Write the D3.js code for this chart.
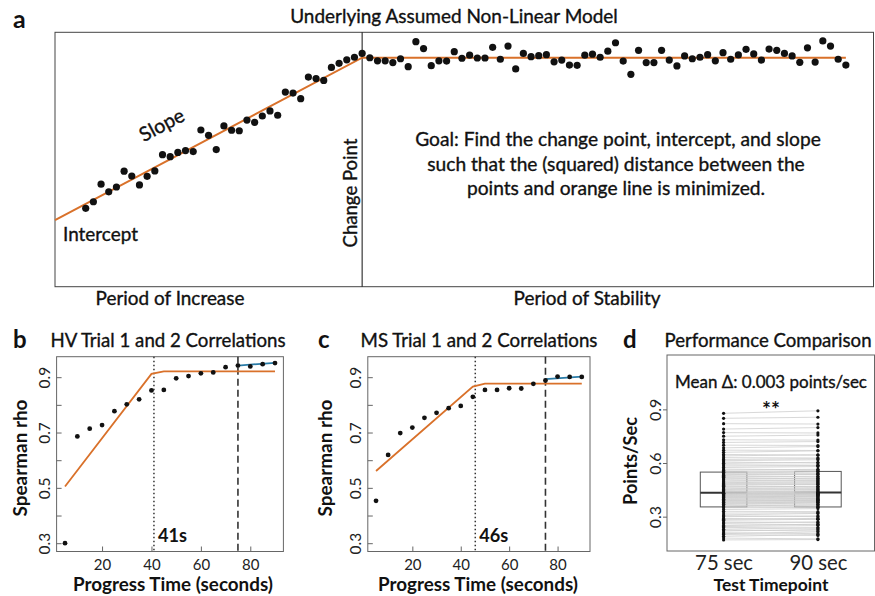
<!DOCTYPE html>
<html>
<head>
<meta charset="utf-8">
<script src="https://cdn.jsdelivr.net/npm/d3@7"></script>
<style>
body { margin: 0; background: #fff; }
svg { display: block; font-family: Lato, "Open Sans", sans-serif; }
</style>
</head>
<body>
<svg id="chart" width="875" height="596"></svg>
<script>
// ---- panel a: sketch of the piecewise model
var aValues = [3.08, 3.34, 4.03, 3.73, 3.92, 4.54, 4.35, 4.00, 4.34, 4.55,
    5.19, 5.11, 5.28, 5.35, 5.31, 6.16, 5.95, 5.39, 6.32, 6.15,
    6.13, 6.55, 6.46, 6.71, 6.91, 6.74, 7.65, 7.61, 7.39, 8.24,
    8.18, 8.11, 8.62, 8.78, 8.92, 9.02, 9.17, 9.00, 8.88, 8.88,
    8.81, 8.96, 8.65, 9.63, 9.36, 8.69, 8.88, 8.87, 9.24, 8.98,
    9.10, 8.99, 8.99, 9.41, 8.94, 9.46, 8.56, 9.17, 9.04, 9.08,
    9.12, 8.84, 8.91, 8.71, 8.70, 9.10, 9.14, 9.02, 9.26, 9.59,
    8.87, 8.35, 9.29, 8.81, 8.81, 9.29, 8.91, 8.68, 9.07, 8.96,
    9.02, 9.12, 8.88, 9.20, 8.94, 9.11, 9.33, 9.15, 8.91, 9.34,
    9.29, 9.17, 9.07, 8.82, 9.39, 8.83, 9.66, 9.46, 8.94, 8.71];
var aChangePoint = 37;
var aFit = [[-3, 2.62], [37, 9.0], [100, 9.0]];

// ---- panels b and c: trial 1 vs 2 correlations
var progressTime = [5, 10, 15, 20, 25, 30, 35, 40, 45, 50, 55, 60, 65, 70, 75, 80, 85, 90];
var hvRho = [0.300, 0.686, 0.714, 0.727, 0.777, 0.802, 0.820, 0.852, 0.854,
    0.896, 0.904, 0.914, 0.917, 0.936, 0.942, 0.939, 0.947, 0.951];
var hvFit = [[5, 0.505], [40, 0.912], [45, 0.921], [90, 0.921]];
var hvLate = [[75, 0.942], [90, 0.952]];
var hvChange = 41;

var msRho = [0.453, 0.619, 0.698, 0.718, 0.753, 0.771, 0.788, 0.796, 0.829,
    0.854, 0.854, 0.860, 0.859, 0.876, 0.888, 0.902, 0.901, 0.901];
var msFit = [[5, 0.561], [45, 0.866], [50, 0.877], [90, 0.877]];
var msLate = [[75, 0.893], [90, 0.902]];
var msChange = 46;

var testCut = 75;
var rhoTicks = [0.3, 0.4, 0.5, 0.6, 0.7, 0.8, 0.9];
var rhoLabels = [0.3, 0.5, 0.7, 0.9];
var timeTicks = [20, 40, 60, 80];

// ---- panel d: points/sec at 75 and 90 sec (one pair per participant)
var timepoints = ['75 sec', '90 sec'];
var pps75 = [0.17, 0.18, 0.19, 0.2, 0.205, 0.21, 0.22, 0.225, 0.23, 0.24,
    0.245, 0.25, 0.26, 0.265, 0.27, 0.28, 0.285, 0.29, 0.3, 0.305,
    0.31, 0.32, 0.33, 0.34, 0.35, 0.356, 0.36, 0.365, 0.37, 0.372,
    0.376, 0.38, 0.384, 0.387, 0.39, 0.394, 0.397, 0.4, 0.404, 0.407,
    0.41, 0.413, 0.416, 0.419, 0.421, 0.424, 0.427, 0.429, 0.431, 0.433,
    0.434, 0.438, 0.443, 0.447, 0.452, 0.456, 0.461, 0.466, 0.47, 0.476,
    0.48, 0.486, 0.49, 0.495, 0.5, 0.506, 0.511, 0.516, 0.52, 0.526,
    0.531, 0.535, 0.54, 0.544, 0.548, 0.553, 0.56, 0.566, 0.575, 0.583,
    0.59, 0.598, 0.605, 0.613, 0.62, 0.63, 0.64, 0.648, 0.66, 0.672,
    0.685, 0.7, 0.715, 0.73, 0.75, 0.77, 0.79, 0.82, 0.85, 0.878];
var pps90 = [0.172, 0.176, 0.2, 0.195, 0.215, 0.205, 0.228, 0.22, 0.238, 0.236,
    0.25, 0.258, 0.255, 0.27, 0.268, 0.285, 0.29, 0.286, 0.304, 0.3,
    0.318, 0.322, 0.328, 0.345, 0.352, 0.355, 0.366, 0.36, 0.376, 0.37,
    0.382, 0.385, 0.38, 0.392, 0.395, 0.39, 0.402, 0.398, 0.41, 0.404,
    0.415, 0.418, 0.412, 0.425, 0.42, 0.428, 0.43, 0.426, 0.436, 0.434,
    0.432, 0.444, 0.44, 0.452, 0.449, 0.462, 0.458, 0.47, 0.468, 0.48,
    0.484, 0.482, 0.496, 0.492, 0.506, 0.502, 0.515, 0.512, 0.526, 0.522,
    0.536, 0.54, 0.538, 0.55, 0.552, 0.556, 0.565, 0.562, 0.58, 0.586,
    0.588, 0.604, 0.6, 0.618, 0.624, 0.628, 0.646, 0.644, 0.668, 0.67,
    0.692, 0.698, 0.72, 0.728, 0.756, 0.768, 0.798, 0.818, 0.856, 0.892];
var ppsTicks = [0.3, 0.6, 0.9];

var ORANGE = '#d9712a', BLUE = '#2a7ca8';
var svg = d3.select('#chart');

// text helper; if `width` is given the font size is scaled so the text
// spans that many pixels (the original used a narrower font)
function label(g, txt, x, y, size, weight, anchor, rot, width) {
    var t = g.append('text')
        .attr('x', x).attr('y', y)
        .attr('font-size', size)
        .attr('font-weight', weight || 400)
        .attr('text-anchor', anchor || 'start')
        .attr('fill', '#111')
        .text(txt);
    if (!weight || weight < 700)
        t.attr('stroke', '#111').attr('stroke-width', 0.35);
    if (rot)
        t.attr('transform', 'rotate(' + rot + ',' + x + ',' + y + ')');
    if (width)
        fitWidth(t.node(), size, width);
    return t;
}

function fitWidth(node, size, width) {
    var len = node.getComputedTextLength();
    if (len > 0)
        d3.select(node).attr('font-size', size * width / len);
}

function frame(g, x, y, color) {
    var xr = x.range(), yr = y.range();
    g.append('rect')
        .attr('x', xr[0]).attr('y', yr[1])
        .attr('width', xr[1] - xr[0]).attr('height', yr[0] - yr[1])
        .attr('fill', 'none').attr('stroke', color || '#666');
}

function styleAxis(g, size) {
    g.attr('font-family', null);
    g.select('.domain').remove();
    g.selectAll('line').attr('stroke', '#666');
    g.selectAll('text').attr('fill', '#222').attr('font-size', size);
}

function leftAxis(g, y, x0, ticks, labelled, size, tick) {
    var ax = g.append('g')
        .attr('transform', 'translate(' + x0 + ',0)')
        .call(d3.axisLeft(y).tickValues(ticks).tickSize(tick)
            .tickFormat(function(d) {
                return labelled.indexOf(d) >= 0 ? d3.format('.1f')(d) : '';
            }));
    styleAxis(ax, size);
    ax.selectAll('text')
        .attr('transform', 'rotate(-90)')
        .attr('x', 0).attr('y', -6.5).attr('dy', null)
        .attr('text-anchor', 'middle');
}

function bottomAxis(g, x, y0, ticks, dy, size, tick) {
    var axis = d3.axisBottom(x).tickSize(tick);
    if (ticks)
        axis.tickValues(ticks);
    var ax = g.append('g')
        .attr('transform', 'translate(0,' + y0 + ')')
        .call(axis);
    styleAxis(ax, size);
    ax.selectAll('text').attr('y', dy).attr('dy', null);
    return ax;
}

// ---------------- panel a
function drawModel() {
    var g = svg.append('g');
    var x = d3.scaleLinear().domain([-3, 103.6]).range([55, 873.5]);
    var y = d3.scaleLinear().domain([0, 10]).range([286.7, 32.3]);
    frame(g, x, y, '#444');
    g.append('line')
        .attr('x1', x(aChangePoint)).attr('x2', x(aChangePoint))
        .attr('y1', y(10)).attr('y2', y(0))
        .attr('stroke', '#111');
    g.append('path')
        .attr('d', d3.line().x(function(d) { return x(d[0]); })
            .y(function(d) { return y(d[1]); })(aFit))
        .attr('fill', 'none').attr('stroke', ORANGE).attr('stroke-width', 2);
    g.selectAll('circle.pt').data(aValues).enter().append('circle')
        .attr('cx', function(d, i) { return x(i + 1); })
        .attr('cy', function(d) { return y(d); })
        .attr('r', 3.6).attr('fill', '#111');

    label(g, 'a', 13, 28, 25, 700);
    label(g, 'Underlying Assumed Non-Linear Model', 454, 23, 19, 400, 'middle', 0, 328);
    label(g, 'Slope', 165, 131, 19, 400, 'middle', -28, 48);
    label(g, 'Intercept', 63, 241, 19, 400, 'start', 0, 75);
    label(g, 'Change Point', 357, 193, 20, 400, 'middle', -90, 109);
    var goal = ['Goal: Find the change point, intercept, and slope',
        'such that the (squared) distance between the',
        'points and orange line is minimized.'];
    var first = label(g, goal[0], 618, 146, 19, 400, 'middle', 0, 406);
    var goalSize = +first.attr('font-size');
    goal.slice(1).forEach(function(s, i) {
        label(g, s, 616, 170.5 + i * 24.5, goalSize, 400, 'middle');
    });
    label(g, 'Period of Increase', 170, 305, 19, 400, 'middle', 0, 149);
    label(g, 'Period of Stability', 587, 305, 19, 400, 'middle', 0, 147);
}

// ---------------- panels b, c
function drawCorrelations(opts) {
    var g = svg.append('g');
    var x = d3.scaleLinear().domain([1.6, 93.4]).range(opts.xRange);
    var y = d3.scaleLinear().domain([0.27, 0.974]).range([551.5, 356.7]);
    var line = d3.line().x(function(d) { return x(d[0]); })
        .y(function(d) { return y(d[1]); });

    frame(g, x, y);
    leftAxis(g, y, opts.xRange[0], rhoTicks, rhoLabels, 15.5, -5);
    bottomAxis(g, x, 551.5, timeTicks, 18.5, 15, -5);

    g.append('line')
        .attr('x1', x(opts.change)).attr('x2', x(opts.change))
        .attr('y1', y(0.974)).attr('y2', y(0.27))
        .attr('stroke', '#333').attr('stroke-width', 1.5)
        .attr('stroke-dasharray', '1.5,2.5');
    g.append('line')
        .attr('x1', x(testCut)).attr('x2', x(testCut))
        .attr('y1', y(0.974)).attr('y2', y(0.27))
        .attr('stroke', '#333').attr('stroke-width', 1.6)
        .attr('stroke-dasharray', '7,4');

    g.append('path').attr('d', line(opts.fit))
        .attr('fill', 'none').attr('stroke', ORANGE).attr('stroke-width', 1.8);
    g.append('path').attr('d', line(opts.late))
        .attr('fill', 'none').attr('stroke', BLUE).attr('stroke-width', 1.8);

    g.selectAll('circle.pt').data(opts.rho).enter().append('circle')
        .attr('cx', function(d, i) { return x(progressTime[i]); })
        .attr('cy', function(d) { return y(d); })
        .attr('r', 2.4).attr('fill', '#111');

    label(g, opts.letter, opts.letterX, 348, 24, 700);
    label(g, opts.title, opts.titleX, 347, 18.7, 400, 'middle', 0, opts.titleW);
    label(g, 'Spearman rho', opts.yLabelX, 458, 19.5, 700, 'middle', -90, 117);
    label(g, 'Progress Time (seconds)', opts.xLabelX, 590.5, 20, 700, 'middle', 0, 200);
    label(g, opts.change + 's', x(opts.change) + 4, 542, 19, 700, 'start', 0, 29);
}

// ---------------- panel d
function drawComparison() {
    var g = svg.append('g');
    var x = d3.scalePoint().domain(timepoints).range([667, 874.5]).padding(0.6);
    var y = d3.scaleLinear().domain([0.108, 1.204]).range([551, 355]);
    var halfW = x.step() * 0.247;

    frame(g, x, y);
    leftAxis(g, y, 667, ppsTicks, ppsTicks, 16, 4);
    var xa = bottomAxis(g, x, 551, null, 19, 17, 0);
    xa.selectAll('.tick line').remove();
    xa.selectAll('text').each(function() { fitWidth(this, 17, 58); });

    [pps75, pps90].forEach(function(vals, k) {
        var s = vals.slice().sort(d3.ascending);
        var q1 = d3.quantile(s, 0.25), med = d3.quantile(s, 0.5), q3 = d3.quantile(s, 0.75);
        var cx = x(timepoints[k]);
        g.append('rect')
            .attr('x', cx - halfW).attr('y', y(q3))
            .attr('width', halfW * 2).attr('height', y(q1) - y(q3))
            .attr('fill', '#fff').attr('stroke', '#555');
        g.append('line')
            .attr('x1', cx - halfW).attr('x2', cx + halfW)
            .attr('y1', y(med)).attr('y2', y(med))
            .attr('stroke', '#333').attr('stroke-width', 2);
    });

    g.selectAll('line.pair').data(pps75).enter().append('line')
        .attr('x1', x(timepoints[0])).attr('x2', x(timepoints[1]))
        .attr('y1', function(d) { return y(d); })
        .attr('y2', function(d, i) { return y(pps90[i]); })
        .attr('stroke', '#cdcdcd').attr('stroke-width', 0.9).attr('opacity', 0.85);

    [pps75, pps90].forEach(function(vals, k) {
        g.selectAll('circle.d' + k).data(vals).enter().append('circle')
            .attr('cx', x(timepoints[k]))
            .attr('cy', function(d) { return y(d); })
            .attr('r', 1.6).attr('fill', '#111');
    });

    label(g, 'd', 623, 348, 24, 700);
    label(g, 'Performance Comparison', 768, 347, 18.7, 400, 'middle', 0, 207);
    label(g, 'Mean \u0394: 0.003 points/sec', 771, 388, 17, 400, 'middle', 0, 192);
    label(g, '**', 771, 417, 21, 700, 'middle', 0, 18);
    label(g, 'Points/Sec', 637, 461, 18, 700, 'middle', -90, 88);
    label(g, 'Test Timepoint', 771, 590.5, 18.5, 700, 'middle', 0, 115);
}

function draw() {
    svg.selectAll('*').remove();
    drawModel();
    drawCorrelations({
        xRange: [56.6, 283.4], rho: hvRho, fit: hvFit, late: hvLate, change: hvChange,
        letter: 'b', letterX: 13, title: 'HV Trial 1 and 2 Correlations', titleX: 168, titleW: 235,
        yLabelX: 27, xLabelX: 173
    });
    drawCorrelations({
        xRange: [367.8, 590], rho: msRho, fit: msFit, late: msLate, change: msChange,
        letter: 'c', letterX: 318, title: 'MS Trial 1 and 2 Correlations', titleX: 479, titleW: 237,
        yLabelX: 332, xLabelX: 478
    });
    drawComparison();
}

// measure text only once Lato (both weights) is ready
draw();
if (document.fonts && document.fonts.load) {
    Promise.all([
        document.fonts.load('400 16px Lato'),
        document.fonts.load('700 16px Lato')
    ]).then(draw, draw);
}
</script>
</body>
</html>
